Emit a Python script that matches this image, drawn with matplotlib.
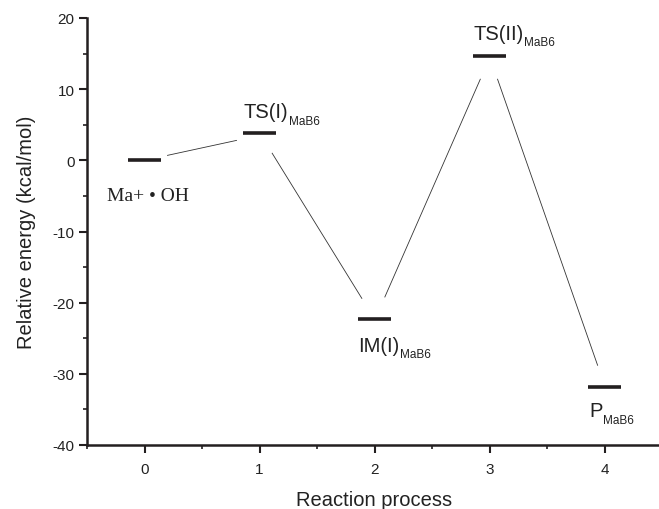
import matplotlib
matplotlib.use("Agg")
import matplotlib.pyplot as plt
from matplotlib.ticker import MultipleLocator

# ---- data ----
steps = [0, 1, 2, 3, 4]
energies = [0.0, 3.8, -22.3, 14.6, -31.9]
main_labels = ["Ma+ • OH", "TS(I)", "IM(I)", "TS(II)", "P"]
sub_labels = ["", "MaB6", "MaB6", "MaB6", "MaB6"]
label_x = [-0.33, 0.86, 1.86, 2.86, 3.87]
label_y = [-4.9, 6.8, -26.0, 17.8, -35.2]
# connector segments (x0, y0, x1, y1)
conn_x0 = [0.20, 1.11, 2.09, 3.07]
conn_y0 = [0.7, 1.0, -19.2, 11.4]
conn_x1 = [0.80, 1.89, 2.92, 3.94]
conn_y1 = [2.8, -19.4, 11.4, -28.8]
xticks = [0, 1, 2, 3, 4]
yticks = [-40, -30, -20, -10, 0, 10, 20]

plt.rcParams['font.family'] = ['Liberation Sans', 'DejaVu Sans']
plt.rcParams['axes.unicode_minus'] = False
fig = plt.figure(figsize=(6.59, 5.10), dpi=100)
ax = fig.add_axes([87/659, 64/510, 575/659, 427/510])

col = '#231f20'
half = 0.14
for x, e in zip(steps, energies):
    ax.plot([x - half, x + half], [e, e], color=col, lw=2.6, solid_capstyle='butt')
for a, b, c, d in zip(conn_x0, conn_y0, conn_x1, conn_y1):
    ax.plot([a, c], [b, d], color='#333333', lw=0.6)

ax.set_xlim(-0.5, 4.5)
ax.set_ylim(-40, 20)
ax.set_xticks(xticks)
ax.set_yticks(yticks)
ax.xaxis.set_minor_locator(MultipleLocator(0.5))
ax.yaxis.set_minor_locator(MultipleLocator(5))
for s in ['top', 'right']:
    ax.spines[s].set_visible(False)
for s in ['left', 'bottom']:
    ax.spines[s].set_linewidth(1.8)
    ax.spines[s].set_color(col)
ax.tick_params(which='major', direction='out', length=6, width=1.5, colors=col,
               labelsize=11, labelcolor='#222222', pad=3)
ax.tick_params(axis='x', which='major', pad=6)
ax.tick_params(which='minor', direction='out', length=3, width=1.2, colors=col)
ax.set_xlabel('Reaction process', fontsize=14.5, color='#222222', labelpad=10)
ax.set_ylabel('Relative energy (kcal/mol)', fontsize=14.5, color='#222222', labelpad=12)

fig.canvas.draw()
r = fig.canvas.get_renderer()
for i, (m, s) in enumerate(zip(main_labels, sub_labels)):
    if i == 0:
        ax.text(label_x[i], label_y[i], m, fontsize=14, family=['Liberation Serif', 'DejaVu Serif'],
                color='#222222', va='center', ha='left')
        continue
    t = ax.text(label_x[i], label_y[i], m, fontsize=14.5, color='#222222', va='center', ha='left')
    bb = t.get_window_extent(renderer=r)
    inv = ax.transData.inverted()
    xr, yb = inv.transform((bb.x1, bb.y0))
    ax.text(xr + 0.005, yb + 0.1, s, fontsize=8.5, color='#222222', va='center', ha='left')

fig.savefig('out.png', dpi=100)
